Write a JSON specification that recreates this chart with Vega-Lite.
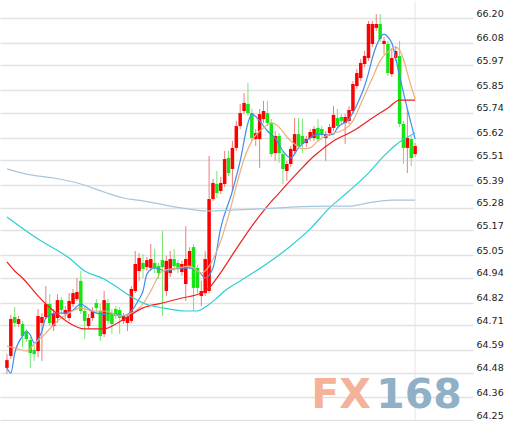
{
  "$schema": "https://vega.github.io/schema/vega-lite/v6.json",
  "width": 473,
  "height": 421,
  "padding": 0,
  "background": "white",
  "config": {
    "view": {"stroke": null}
  },
  "datasets": {
    "candles": [
      {"i":0,"o":64.503,"h":64.570,"l":64.474,"c":64.541},
      {"i":1,"o":64.561,"h":64.760,"l":64.546,"c":64.740},
      {"i":2,"o":64.750,"h":64.798,"l":64.701,"c":64.721},
      {"i":3,"o":64.716,"h":64.755,"l":64.701,"c":64.740},
      {"i":4,"o":64.716,"h":64.731,"l":64.604,"c":64.658},
      {"i":5,"o":64.677,"h":64.692,"l":64.629,"c":64.643},
      {"i":6,"o":64.638,"h":64.653,"l":64.503,"c":64.575},
      {"i":7,"o":64.590,"h":64.614,"l":64.537,"c":64.570},
      {"i":8,"o":64.585,"h":64.789,"l":64.556,"c":64.755},
      {"i":9,"o":64.721,"h":64.769,"l":64.537,"c":64.750},
      {"i":10,"o":64.750,"h":64.900,"l":64.740,"c":64.813},
      {"i":11,"o":64.813,"h":64.861,"l":64.706,"c":64.721},
      {"i":12,"o":64.706,"h":64.789,"l":64.682,"c":64.769},
      {"i":13,"o":64.745,"h":64.861,"l":64.721,"c":64.832},
      {"i":14,"o":64.832,"h":64.847,"l":64.769,"c":64.784},
      {"i":15,"o":64.764,"h":64.803,"l":64.740,"c":64.784},
      {"i":16,"o":64.745,"h":64.866,"l":64.731,"c":64.828},
      {"i":17,"o":64.813,"h":64.886,"l":64.798,"c":64.866},
      {"i":18,"o":64.837,"h":64.939,"l":64.828,"c":64.871},
      {"i":19,"o":64.925,"h":64.973,"l":64.764,"c":64.779},
      {"i":20,"o":64.779,"h":64.798,"l":64.643,"c":64.731},
      {"i":21,"o":64.706,"h":64.764,"l":64.692,"c":64.745},
      {"i":22,"o":64.745,"h":64.798,"l":64.731,"c":64.779},
      {"i":23,"o":64.818,"h":64.837,"l":64.769,"c":64.794},
      {"i":24,"o":64.779,"h":64.813,"l":64.634,"c":64.658},
      {"i":25,"o":64.667,"h":64.876,"l":64.653,"c":64.832},
      {"i":26,"o":64.818,"h":64.837,"l":64.716,"c":64.731},
      {"i":27,"o":64.769,"h":64.789,"l":64.667,"c":64.716},
      {"i":28,"o":64.789,"h":64.803,"l":64.740,"c":64.755},
      {"i":29,"o":64.784,"h":64.798,"l":64.667,"c":64.745},
      {"i":30,"o":64.731,"h":64.769,"l":64.716,"c":64.755},
      {"i":31,"o":64.721,"h":64.764,"l":64.682,"c":64.750},
      {"i":32,"o":64.731,"h":64.900,"l":64.721,"c":64.886},
      {"i":33,"o":64.876,"h":65.070,"l":64.866,"c":65.007},
      {"i":34,"o":64.973,"h":65.060,"l":64.925,"c":65.036},
      {"i":35,"o":65.012,"h":65.055,"l":64.939,"c":64.983},
      {"i":36,"o":64.992,"h":65.041,"l":64.973,"c":65.026},
      {"i":37,"o":64.988,"h":65.104,"l":64.973,"c":65.031},
      {"i":38,"o":65.012,"h":65.080,"l":64.963,"c":64.988},
      {"i":39,"o":64.997,"h":65.012,"l":64.934,"c":64.963},
      {"i":40,"o":65.026,"h":65.167,"l":64.755,"c":64.992},
      {"i":41,"o":64.876,"h":65.046,"l":64.852,"c":65.022},
      {"i":42,"o":64.963,"h":65.070,"l":64.944,"c":65.031},
      {"i":43,"o":65.031,"h":65.080,"l":64.973,"c":64.997},
      {"i":44,"o":65.012,"h":65.026,"l":64.963,"c":64.988},
      {"i":45,"o":64.968,"h":65.022,"l":64.949,"c":65.007},
      {"i":46,"o":64.910,"h":65.191,"l":64.828,"c":65.031},
      {"i":47,"o":64.997,"h":65.089,"l":64.983,"c":65.070},
      {"i":48,"o":65.089,"h":65.104,"l":64.779,"c":64.891},
      {"i":49,"o":64.988,"h":65.002,"l":64.866,"c":64.891},
      {"i":50,"o":64.852,"h":64.925,"l":64.803,"c":64.876},
      {"i":51,"o":64.866,"h":65.070,"l":64.852,"c":65.031},
      {"i":52,"o":64.876,"h":65.531,"l":64.866,"c":65.322},
      {"i":53,"o":65.322,"h":65.419,"l":65.313,"c":65.400},
      {"i":54,"o":65.395,"h":65.458,"l":65.327,"c":65.351},
      {"i":55,"o":65.361,"h":65.429,"l":65.346,"c":65.400},
      {"i":56,"o":65.395,"h":65.555,"l":65.380,"c":65.516},
      {"i":57,"o":65.521,"h":65.555,"l":65.434,"c":65.448},
      {"i":58,"o":65.468,"h":65.604,"l":65.361,"c":65.570},
      {"i":59,"o":65.570,"h":65.701,"l":65.555,"c":65.676},
      {"i":60,"o":65.676,"h":65.783,"l":65.662,"c":65.739},
      {"i":61,"o":65.749,"h":65.836,"l":65.734,"c":65.788},
      {"i":62,"o":65.783,"h":65.885,"l":65.725,"c":65.739},
      {"i":63,"o":65.739,"h":65.759,"l":65.604,"c":65.618},
      {"i":64,"o":65.613,"h":65.662,"l":65.579,"c":65.642},
      {"i":65,"o":65.613,"h":65.759,"l":65.473,"c":65.734},
      {"i":66,"o":65.710,"h":65.798,"l":65.691,"c":65.749},
      {"i":67,"o":65.739,"h":65.798,"l":65.676,"c":65.691},
      {"i":68,"o":65.691,"h":65.710,"l":65.526,"c":65.540},
      {"i":69,"o":65.545,"h":65.652,"l":65.507,"c":65.628},
      {"i":70,"o":65.628,"h":65.642,"l":65.497,"c":65.545},
      {"i":71,"o":65.540,"h":65.555,"l":65.395,"c":65.468},
      {"i":72,"o":65.458,"h":65.507,"l":65.410,"c":65.492},
      {"i":73,"o":65.492,"h":65.579,"l":65.477,"c":65.565},
      {"i":74,"o":65.555,"h":65.715,"l":65.545,"c":65.637},
      {"i":75,"o":65.637,"h":65.715,"l":65.565,"c":65.579},
      {"i":76,"o":65.628,"h":65.710,"l":65.545,"c":65.589},
      {"i":77,"o":65.594,"h":65.628,"l":65.574,"c":65.613},
      {"i":78,"o":65.618,"h":65.662,"l":65.604,"c":65.647},
      {"i":79,"o":65.618,"h":65.676,"l":65.604,"c":65.662},
      {"i":80,"o":65.667,"h":65.710,"l":65.599,"c":65.613},
      {"i":81,"o":65.662,"h":65.676,"l":65.623,"c":65.637},
      {"i":82,"o":65.618,"h":65.652,"l":65.507,"c":65.637},
      {"i":83,"o":65.642,"h":65.686,"l":65.628,"c":65.671},
      {"i":84,"o":65.667,"h":65.773,"l":65.652,"c":65.730},
      {"i":85,"o":65.715,"h":65.759,"l":65.662,"c":65.676},
      {"i":86,"o":65.720,"h":65.734,"l":65.686,"c":65.701},
      {"i":87,"o":65.691,"h":65.734,"l":65.589,"c":65.720},
      {"i":88,"o":65.701,"h":65.773,"l":65.686,"c":65.754},
      {"i":89,"o":65.749,"h":65.894,"l":65.734,"c":65.880},
      {"i":90,"o":65.870,"h":65.953,"l":65.856,"c":65.933},
      {"i":91,"o":65.909,"h":66.001,"l":65.894,"c":65.982},
      {"i":92,"o":65.977,"h":66.040,"l":65.962,"c":66.016},
      {"i":93,"o":66.006,"h":66.186,"l":65.992,"c":66.171},
      {"i":94,"o":66.074,"h":66.186,"l":66.059,"c":66.171},
      {"i":95,"o":66.152,"h":66.219,"l":66.137,"c":66.171},
      {"i":96,"o":66.171,"h":66.219,"l":66.084,"c":66.098},
      {"i":97,"o":66.074,"h":66.108,"l":66.025,"c":66.089},
      {"i":98,"o":66.074,"h":66.089,"l":65.919,"c":65.933},
      {"i":99,"o":65.928,"h":66.055,"l":65.914,"c":66.006},
      {"i":100,"o":66.006,"h":66.064,"l":65.992,"c":66.040},
      {"i":101,"o":66.016,"h":66.089,"l":65.671,"c":65.686},
      {"i":102,"o":65.686,"h":65.701,"l":65.492,"c":65.570},
      {"i":103,"o":65.570,"h":65.759,"l":65.448,"c":65.618},
      {"i":104,"o":65.613,"h":65.628,"l":65.482,"c":65.521},
      {"i":105,"o":65.540,"h":65.594,"l":65.526,"c":65.579}
    ],
    "ma": [
      {"s":"MA5","i":0,"v":64.503},{"s":"MA5","i":1,"v":64.478},{"s":"MA5","i":2,"v":64.575},
      {"s":"MA5","i":4,"v":64.658},{"s":"MA5","i":5,"v":64.682},{"s":"MA5","i":6,"v":64.663},
      {"s":"MA5","i":7,"v":64.624},{"s":"MA5","i":9,"v":64.682},{"s":"MA5","i":10,"v":64.745},
      {"s":"MA5","i":13,"v":64.769},{"s":"MA5","i":15,"v":64.769},{"s":"MA5","i":17,"v":64.784},
      {"s":"MA5","i":19,"v":64.813},{"s":"MA5","i":21,"v":64.789},{"s":"MA5","i":23,"v":64.769},
      {"s":"MA5","i":25,"v":64.764},{"s":"MA5","i":26,"v":64.769},{"s":"MA5","i":28,"v":64.764},
      {"s":"MA5","i":30,"v":64.755},{"s":"MA5","i":32,"v":64.779},{"s":"MA5","i":34,"v":64.837},
      {"s":"MA5","i":35,"v":64.876},{"s":"MA5","i":36,"v":64.958},{"s":"MA5","i":38,"v":64.988},
      {"s":"MA5","i":41,"v":64.973},{"s":"MA5","i":43,"v":64.983},{"s":"MA5","i":47,"v":64.988},
      {"s":"MA5","i":50,"v":64.958},{"s":"MA5","i":51,"v":64.939},{"s":"MA5","i":53,"v":64.988},
      {"s":"MA5","i":55,"v":65.182},{"s":"MA5","i":58,"v":65.361},{"s":"MA5","i":60,"v":65.507},
      {"s":"MA5","i":62,"v":65.691},{"s":"MA5","i":63,"v":65.734},{"s":"MA5","i":65,"v":65.701},
      {"s":"MA5","i":67,"v":65.652},{"s":"MA5","i":69,"v":65.618},{"s":"MA5","i":71,"v":65.555},
      {"s":"MA5","i":73,"v":65.521},{"s":"MA5","i":75,"v":65.570},{"s":"MA5","i":77,"v":65.604},
      {"s":"MA5","i":80,"v":65.637},{"s":"MA5","i":82,"v":65.633},{"s":"MA5","i":84,"v":65.637},
      {"s":"MA5","i":85,"v":65.667},{"s":"MA5","i":88,"v":65.710},{"s":"MA5","i":90,"v":65.778},
      {"s":"MA5","i":92,"v":65.870},{"s":"MA5","i":93,"v":65.933},{"s":"MA5","i":94,"v":66.006},
      {"s":"MA5","i":95,"v":66.064},{"s":"MA5","i":97,"v":66.122},{"s":"MA5","i":98,"v":66.108},
      {"s":"MA5","i":99,"v":66.079},{"s":"MA5","i":101,"v":65.919},{"s":"MA5","i":103,"v":65.759},
      {"s":"MA5","i":105,"v":65.613},

      {"s":"MA10","i":0,"v":64.609},{"s":"MA10","i":2,"v":64.600},{"s":"MA10","i":5,"v":64.585},
      {"s":"MA10","i":7,"v":64.619},{"s":"MA10","i":10,"v":64.672},{"s":"MA10","i":13,"v":64.731},
      {"s":"MA10","i":16,"v":64.769},{"s":"MA10","i":19,"v":64.794},{"s":"MA10","i":22,"v":64.779},
      {"s":"MA10","i":25,"v":64.779},{"s":"MA10","i":27,"v":64.769},{"s":"MA10","i":29,"v":64.755},
      {"s":"MA10","i":32,"v":64.769},{"s":"MA10","i":35,"v":64.813},{"s":"MA10","i":37,"v":64.876},
      {"s":"MA10","i":40,"v":64.973},{"s":"MA10","i":44,"v":64.988},{"s":"MA10","i":47,"v":64.997},
      {"s":"MA10","i":50,"v":64.963},{"s":"MA10","i":52,"v":64.997},{"s":"MA10","i":55,"v":65.119},
      {"s":"MA10","i":57,"v":65.240},{"s":"MA10","i":59,"v":65.385},{"s":"MA10","i":61,"v":65.516},
      {"s":"MA10","i":63,"v":65.604},{"s":"MA10","i":66,"v":65.667},{"s":"MA10","i":68,"v":65.691},
      {"s":"MA10","i":70,"v":65.671},{"s":"MA10","i":72,"v":65.623},{"s":"MA10","i":74,"v":65.589},
      {"s":"MA10","i":76,"v":65.565},{"s":"MA10","i":78,"v":65.570},{"s":"MA10","i":80,"v":65.604},
      {"s":"MA10","i":83,"v":65.637},{"s":"MA10","i":86,"v":65.652},{"s":"MA10","i":89,"v":65.701},
      {"s":"MA10","i":91,"v":65.783},{"s":"MA10","i":94,"v":65.909},{"s":"MA10","i":96,"v":65.992},
      {"s":"MA10","i":99,"v":66.050},{"s":"MA10","i":100,"v":66.059},{"s":"MA10","i":102,"v":66.001},
      {"s":"MA10","i":103,"v":65.933},{"s":"MA10","i":105,"v":65.807},

      {"s":"MA20","i":0,"v":65.017},{"s":"MA20","i":2,"v":64.973},{"s":"MA20","i":4,"v":64.939},
      {"s":"MA20","i":8,"v":64.852},{"s":"MA20","i":10,"v":64.813},{"s":"MA20","i":13,"v":64.764},
      {"s":"MA20","i":16,"v":64.721},{"s":"MA20","i":20,"v":64.692},{"s":"MA20","i":25,"v":64.692},
      {"s":"MA20","i":28,"v":64.716},{"s":"MA20","i":31,"v":64.750},{"s":"MA20","i":35,"v":64.794},
      {"s":"MA20","i":40,"v":64.818},{"s":"MA20","i":45,"v":64.842},{"s":"MA20","i":50,"v":64.866},
      {"s":"MA20","i":52,"v":64.891},{"s":"MA20","i":54,"v":64.939},{"s":"MA20","i":59,"v":65.080},
      {"s":"MA20","i":63,"v":65.191},{"s":"MA20","i":67,"v":65.288},{"s":"MA20","i":70,"v":65.351},
      {"s":"MA20","i":74,"v":65.434},{"s":"MA20","i":79,"v":65.531},{"s":"MA20","i":84,"v":65.604},
      {"s":"MA20","i":89,"v":65.652},{"s":"MA20","i":94,"v":65.715},{"s":"MA20","i":98,"v":65.764},
      {"s":"MA20","i":101,"v":65.802},{"s":"MA20","i":105,"v":65.802},

      {"s":"MA60","i":0,"v":65.235},{"s":"MA60","i":8,"v":65.128},{"s":"MA60","i":16,"v":65.036},
      {"s":"MA60","i":20,"v":64.973},{"s":"MA60","i":25,"v":64.934},{"s":"MA60","i":29,"v":64.886},
      {"s":"MA60","i":33,"v":64.837},{"s":"MA60","i":35,"v":64.818},{"s":"MA60","i":40,"v":64.794},
      {"s":"MA60","i":46,"v":64.779},{"s":"MA60","i":49,"v":64.779},{"s":"MA60","i":51,"v":64.798},
      {"s":"MA60","i":54,"v":64.842},{"s":"MA60","i":56,"v":64.876},{"s":"MA60","i":60,"v":64.925},
      {"s":"MA60","i":66,"v":64.997},{"s":"MA60","i":73,"v":65.094},{"s":"MA60","i":78,"v":65.177},
      {"s":"MA60","i":83,"v":65.279},{"s":"MA60","i":88,"v":65.361},{"s":"MA60","i":93,"v":65.448},
      {"s":"MA60","i":97,"v":65.531},{"s":"MA60","i":100,"v":65.584},{"s":"MA60","i":105,"v":65.642},

      {"s":"MA120","i":0,"v":65.468},{"s":"MA120","i":5,"v":65.443},{"s":"MA120","i":12,"v":65.424},
      {"s":"MA120","i":19,"v":65.395},{"s":"MA120","i":25,"v":65.356},{"s":"MA120","i":30,"v":65.327},
      {"s":"MA120","i":35,"v":65.313},{"s":"MA120","i":42,"v":65.288},{"s":"MA120","i":52,"v":65.264},
      {"s":"MA120","i":59,"v":65.269},{"s":"MA120","i":65,"v":65.274},{"s":"MA120","i":73,"v":65.283},
      {"s":"MA120","i":83,"v":65.288},{"s":"MA120","i":88,"v":65.288},{"s":"MA120","i":93,"v":65.303},
      {"s":"MA120","i":99,"v":65.317},{"s":"MA120","i":105,"v":65.317}
    ]
  },
  "layer": [
    {
      "description": "Price axis with horizontal grid",
      "data": {"name": "candles"},
      "mark": {"type": "rule", "opacity": 0},
      "encoding": {
        "x": {"field": "i", "type": "quantitative", "scale": {"domain": [-0.5, 118.6], "nice": false, "zero": false}, "axis": null},
        "y": {
          "field": "c", "type": "quantitative",
          "scale": {"domain": [64.2407, 66.2825], "nice": false, "zero": false},
          "axis": {
            "orient": "right",
            "title": null,
            "values": [64.25, 64.36, 64.48, 64.59, 64.71, 64.82, 64.94, 65.05, 65.17, 65.28, 65.39, 65.51, 65.62, 65.74, 65.85, 65.97, 66.08, 66.20],
            "tickCount": 30,
            "format": ".2f",
            "grid": true,
            "gridColor": "#e2e2e2",
            "gridWidth": 1.5,
            "domain": false,
            "ticks": false,
            "labelOverlap": false,
            "labelPadding": 3,
            "labelBaseline": "alphabetic",
            "labelOffset": -2,
            "labelFont": "DejaVu Sans",
            "labelFontSize": 9.5,
            "labelColor": "#222222"
          }
        }
      }
    },
    {
      "description": "Vertical marker at the latest bar",
      "data": {"values": [{"last": 105}]},
      "mark": {"type": "rule", "color": "#e6e6e6", "strokeWidth": 1},
      "encoding": {"x": {"field": "last", "type": "quantitative"}}
    },
    {
      "description": "Watermark",
      "data": {"values": [{"txt": "FX", "px": 78.3, "py": 64.308}]},
      "mark": {"type": "text", "align": "left", "baseline": "alphabetic", "font": "DejaVu Sans", "fontWeight": "bold", "fontSize": 41, "color": "#f4b298"},
      "encoding": {
        "x": {"field": "px", "type": "quantitative"},
        "y": {"field": "py", "type": "quantitative"},
        "text": {"field": "txt"}
      }
    },
    {
      "data": {"values": [{"txt": "168", "px": 95.0, "py": 64.308}]},
      "mark": {"type": "text", "align": "left", "baseline": "alphabetic", "font": "DejaVu Sans", "fontWeight": "bold", "fontSize": 41, "color": "#8fb0c6"},
      "encoding": {
        "x": {"field": "px", "type": "quantitative"},
        "y": {"field": "py", "type": "quantitative"},
        "text": {"field": "txt"}
      }
    },
    {
      "description": "Candle wicks",
      "data": {"name": "candles"},
      "mark": {"type": "rule", "strokeWidth": 1},
      "encoding": {
        "x": {"field": "i", "type": "quantitative"},
        "y": {"field": "l", "type": "quantitative"},
        "y2": {"field": "h"},
        "color": {"condition": {"test": "datum.c >= datum.o", "value": "#f47a7a"}, "value": "#72e872"}
      }
    },
    {
      "description": "Candle bodies: red rising, green falling",
      "data": {"name": "candles"},
      "mark": {"type": "bar", "width": 3.5},
      "encoding": {
        "x": {"field": "i", "type": "quantitative"},
        "y": {"field": "o", "type": "quantitative"},
        "y2": {"field": "c"},
        "color": {"condition": {"test": "datum.c >= datum.o", "value": "#ff0000"}, "value": "#14e614"}
      }
    },
    {
      "description": "Moving averages",
      "data": {"name": "ma"},
      "mark": {"type": "line", "strokeWidth": 1.2, "interpolate": "monotone"},
      "encoding": {
        "x": {"field": "i", "type": "quantitative"},
        "y": {"field": "v", "type": "quantitative"},
        "color": {
          "field": "s", "type": "nominal", "legend": null,
          "scale": {"domain": ["MA5", "MA10", "MA20", "MA60", "MA120"], "range": ["#3d8ef0", "#eeac7e", "#ee2020", "#2ccfd4", "#a6c6de"]}
        },
        "order": {"field": "i", "type": "quantitative"}
      }
    }
  ]
}
